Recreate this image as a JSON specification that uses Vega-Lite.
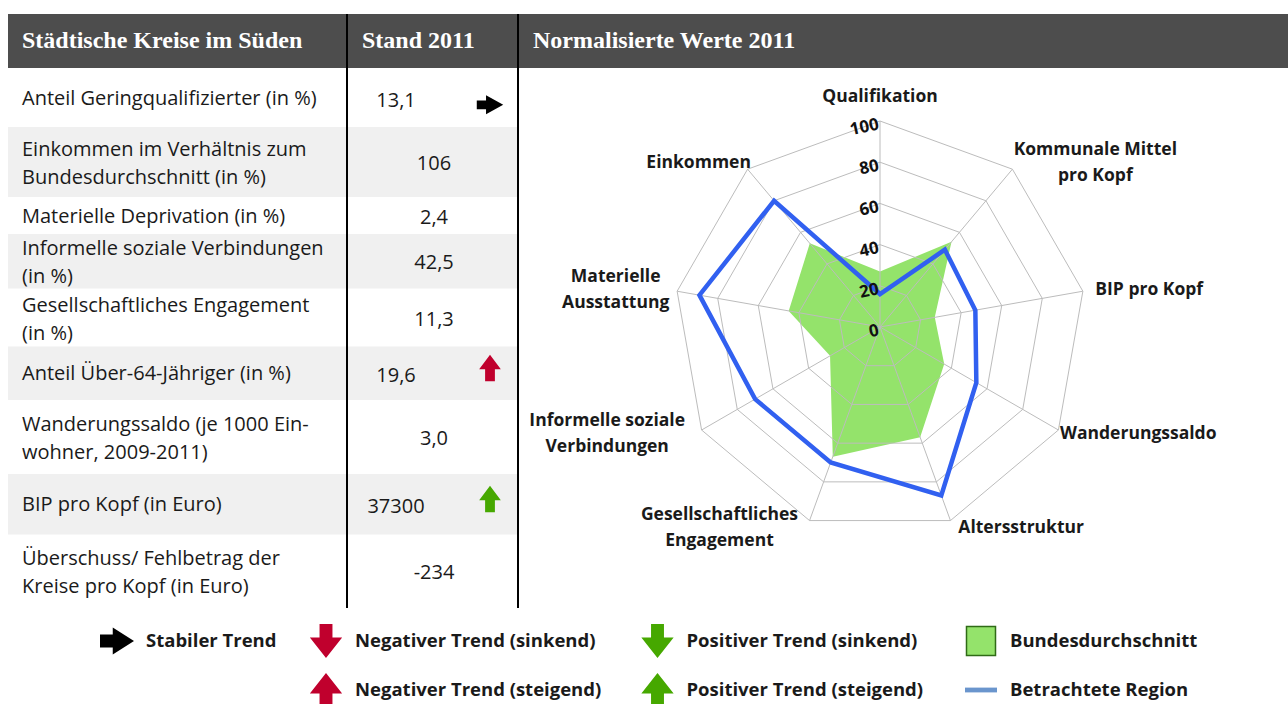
{
  "$schema": "https://vega.github.io/schema/vega-lite/v6.json",
  "width": 1288,
  "height": 704,
  "autosize": {"type": "fit", "contains": "padding"},
  "padding": 0,
  "background": "#ffffff",
  "config": {"view": {"stroke": null}},
  "datasets": {
    "kopfzeile": [
      {"titel": "Städtische Kreise im Süden", "spalte": 1},
      {"titel": "Stand 2011", "spalte": 3},
      {"titel": "Normalisierte Werte 2011", "spalte": 8}
    ],
    "tabelle": [
      {"zeile": 1, "indikator": "Anteil Geringqualifizierter (in %)", "wert": "13,1", "trend": "stabil"},
      {"zeile": 2, "indikator": "Einkommen im Verhältnis zum\nBundesdurchschnitt (in %)", "wert": "106"},
      {"zeile": 3, "indikator": "Materielle Deprivation (in %)", "wert": "2,4"},
      {"zeile": 4, "indikator": "Informelle soziale Verbindungen\n(in %)", "wert": "42,5"},
      {"zeile": 5, "indikator": "Gesellschaftliches Engagement\n(in %)", "wert": "11,3"},
      {"zeile": 6, "indikator": "Anteil Über-64-Jähriger (in %)", "wert": "19,6", "trend": "neg_steigend"},
      {"zeile": 7, "indikator": "Wanderungssaldo (je 1000 Ein-\nwohner, 2009-2011)", "wert": "3,0"},
      {"zeile": 8, "indikator": "BIP pro Kopf (in Euro)", "wert": "37300", "trend": "pos_steigend"},
      {"zeile": 9, "indikator": "Überschuss/ Fehlbetrag der\nKreise pro Kopf (in Euro)", "wert": "-234"}
    ],
    "achsen": [
      {"i": 0, "achse": "Qualifikation", "region": 16, "bund": 27},
      {"i": 1, "achse": "Kommunale Mittel\npro Kopf", "region": 49, "bund": 54},
      {"i": 2, "achse": "BIP pro Kopf", "region": 47, "bund": 27},
      {"i": 3, "achse": "Wanderungssaldo", "region": 54, "bund": 36},
      {"i": 4, "achse": "Altersstruktur", "region": 87, "bund": 57},
      {"i": 5, "achse": "Gesellschaftliches\nEngagement", "region": 70, "bund": 67},
      {"i": 6, "achse": "Informelle soziale\nVerbindungen", "region": 70, "bund": 28},
      {"i": 7, "achse": "Materielle\nAusstattung", "region": 89, "bund": 45},
      {"i": 8, "achse": "Einkommen", "region": 80, "bund": 53}
    ],
    "ringe": [
      {"stufe": 20, "achsenIndex": [0, 1, 2, 3, 4, 5, 6, 7, 8]},
      {"stufe": 40, "achsenIndex": [0, 1, 2, 3, 4, 5, 6, 7, 8]},
      {"stufe": 60, "achsenIndex": [0, 1, 2, 3, 4, 5, 6, 7, 8]},
      {"stufe": 80, "achsenIndex": [0, 1, 2, 3, 4, 5, 6, 7, 8]},
      {"stufe": 100, "achsenIndex": [0, 1, 2, 3, 4, 5, 6, 7, 8]}
    ],
    "stufen": [{"stufe": 0}, {"stufe": 20}, {"stufe": 40}, {"stufe": 60}, {"stufe": 80}, {"stufe": 100}],
    "legende": [
      {"symbol": "stabil", "eintrag": "Stabiler Trend"},
      {"symbol": "neg_sinkend", "eintrag": "Negativer Trend (sinkend)"},
      {"symbol": "neg_steigend", "eintrag": "Negativer Trend (steigend)"},
      {"symbol": "pos_sinkend", "eintrag": "Positiver Trend (sinkend)"},
      {"symbol": "pos_steigend", "eintrag": "Positiver Trend (steigend)"},
      {"symbol": "bund", "eintrag": "Bundesdurchschnitt"},
      {"symbol": "region", "eintrag": "Betrachtete Region"}
    ]
  },
  "resolve": {"scale": {"x": "independent", "y": "independent"}},
  "layer": [
    {
      "layer": [
        {
          "data": {"values": [{"feld": "kopf"}]},
          "mark": {"type": "rect", "color": "#4d4d4d"},
          "encoding": {
            "x": {"datum": 0, "type": "quantitative", "axis": null, "scale": {"domain": [0,1,2,3,4,5,6,7,8,9], "range": [8,22,347,362,396,434,490,518,533,1288], "nice": false, "zero": false}},
            "x2": {"datum": 9},
            "y": {"datum": 0, "type": "quantitative", "axis": null, "scale": {"domain": [0,1,2,3,4,5,6,7,8,9,10], "range": [14,68,127,197,234,288.5,346.5,400,474,534.5,608], "nice": false, "zero": false}},
            "y2": {"datum": 1}
          }
        },
        {
          "data": {"name": "tabelle"},
          "transform": [{"filter": "datum.zeile % 2 == 0"}, {"calculate": "datum.zeile + 1", "as": "ende"}],
          "mark": {"type": "rect", "color": "#f0f0f0"},
          "encoding": {
            "x": {"datum": 0, "type": "quantitative", "axis": null, "scale": {"domain": [0,1,2,3,4,5,6,7,8,9], "range": [8,22,347,362,396,434,490,518,533,1288], "nice": false, "zero": false}},
            "x2": {"datum": 7},
            "y": {"field": "zeile", "type": "quantitative", "axis": null, "scale": {"domain": [0,1,2,3,4,5,6,7,8,9,10], "range": [14,68,127,197,234,288.5,346.5,400,474,534.5,608], "nice": false, "zero": false}},
            "y2": {"field": "ende"}
          }
        },
        {
          "data": {"values": [{"trenner": 2}, {"trenner": 7}]},
          "mark": {"type": "rule", "color": "#000000", "strokeWidth": 2},
          "encoding": {
            "x": {"field": "trenner", "type": "quantitative", "axis": null, "scale": {"domain": [0,1,2,3,4,5,6,7,8,9], "range": [8,22,347,362,396,434,490,518,533,1288], "nice": false, "zero": false}},
            "y": {"datum": 0, "type": "quantitative", "axis": null, "scale": {"domain": [0,1,2,3,4,5,6,7,8,9,10], "range": [14,68,127,197,234,288.5,346.5,400,474,534.5,608], "nice": false, "zero": false}},
            "y2": {"datum": 10}
          }
        },
        {
          "data": {"name": "kopfzeile"},
          "mark": {"type": "text", "align": "left", "baseline": "middle", "font": "Liberation Serif", "fontWeight": "bold", "fontSize": 24, "color": "#ffffff"},
          "encoding": {
            "x": {"field": "spalte", "type": "quantitative", "axis": null, "scale": {"domain": [0,1,2,3,4,5,6,7,8,9], "range": [8,22,347,362,396,434,490,518,533,1288], "nice": false, "zero": false}},
            "y": {"datum": 0.5, "type": "quantitative", "axis": null, "scale": {"domain": [0,1,2,3,4,5,6,7,8,9,10], "range": [14,68,127,197,234,288.5,346.5,400,474,534.5,608], "nice": false, "zero": false}},
            "text": {"field": "titel"}
          }
        },
        {
          "data": {"name": "tabelle"},
          "transform": [{"filter": "indexof(datum.indikator, '\\n') < 0"}, {"calculate": "datum.zeile + 0.5", "as": "mitte"}],
          "mark": {"type": "text", "align": "left", "baseline": "middle", "dy": 1, "font": "Open Sans", "fontSize": 20, "color": "#1a1a1a"},
          "encoding": {
            "x": {"datum": 1, "type": "quantitative", "axis": null, "scale": {"domain": [0,1,2,3,4,5,6,7,8,9], "range": [8,22,347,362,396,434,490,518,533,1288], "nice": false, "zero": false}},
            "y": {"field": "mitte", "type": "quantitative", "axis": null, "scale": {"domain": [0,1,2,3,4,5,6,7,8,9,10], "range": [14,68,127,197,234,288.5,346.5,400,474,534.5,608], "nice": false, "zero": false}},
            "text": {"field": "indikator"}
          }
        },
        {
          "data": {"name": "tabelle"},
          "transform": [{"filter": "indexof(datum.indikator, '\\n') >= 0"}, {"calculate": "datum.zeile + 0.5", "as": "mitte"}],
          "mark": {"type": "text", "align": "left", "baseline": "middle", "dy": -12, "font": "Open Sans", "fontSize": 20, "lineHeight": 28, "lineBreak": "\n", "color": "#1a1a1a"},
          "encoding": {
            "x": {"datum": 1, "type": "quantitative", "axis": null, "scale": {"domain": [0,1,2,3,4,5,6,7,8,9], "range": [8,22,347,362,396,434,490,518,533,1288], "nice": false, "zero": false}},
            "y": {"field": "mitte", "type": "quantitative", "axis": null, "scale": {"domain": [0,1,2,3,4,5,6,7,8,9,10], "range": [14,68,127,197,234,288.5,346.5,400,474,534.5,608], "nice": false, "zero": false}},
            "text": {"field": "indikator"}
          }
        },
        {
          "data": {"name": "tabelle"},
          "transform": [{"filter": "!datum.trend"}, {"calculate": "datum.zeile + 0.5", "as": "mitte"}],
          "mark": {"type": "text", "align": "center", "baseline": "middle", "dy": 2, "font": "Open Sans", "fontSize": 20, "color": "#1a1a1a"},
          "encoding": {
            "x": {"datum": 5, "type": "quantitative", "axis": null, "scale": {"domain": [0,1,2,3,4,5,6,7,8,9], "range": [8,22,347,362,396,434,490,518,533,1288], "nice": false, "zero": false}},
            "y": {"field": "mitte", "type": "quantitative", "axis": null, "scale": {"domain": [0,1,2,3,4,5,6,7,8,9,10], "range": [14,68,127,197,234,288.5,346.5,400,474,534.5,608], "nice": false, "zero": false}},
            "text": {"field": "wert"}
          }
        },
        {
          "data": {"name": "tabelle"},
          "transform": [{"filter": "datum.trend"}, {"calculate": "datum.zeile + 0.5", "as": "mitte"}],
          "mark": {"type": "text", "align": "center", "baseline": "middle", "dy": 3, "font": "Open Sans", "fontSize": 20, "color": "#1a1a1a"},
          "encoding": {
            "x": {"datum": 4, "type": "quantitative", "axis": null, "scale": {"domain": [0,1,2,3,4,5,6,7,8,9], "range": [8,22,347,362,396,434,490,518,533,1288], "nice": false, "zero": false}},
            "y": {"field": "mitte", "type": "quantitative", "axis": null, "scale": {"domain": [0,1,2,3,4,5,6,7,8,9,10], "range": [14,68,127,197,234,288.5,346.5,400,474,534.5,608], "nice": false, "zero": false}},
            "text": {"field": "wert"}
          }
        },
        {
          "data": {"name": "tabelle"},
          "transform": [{"filter": "datum.trend"}, {"calculate": "datum.zeile + 0.5", "as": "mitte"}],
          "mark": {"type": "point", "filled": true, "opacity": 1, "size": 700, "strokeWidth": 0},
          "encoding": {
            "x": {"datum": 6, "type": "quantitative", "axis": null, "scale": {"domain": [0,1,2,3,4,5,6,7,8,9], "range": [8,22,347,362,396,434,490,518,533,1288], "nice": false, "zero": false}},
            "y": {"field": "mitte", "type": "quantitative", "axis": null, "scale": {"domain": [0,1,2,3,4,5,6,7,8,9,10], "range": [14,68,127,197,234,288.5,346.5,400,474,534.5,608], "nice": false, "zero": false}},
            "shape": {"field": "trend", "type": "nominal", "legend": null, "scale": {"domain": ["stabil", "neg_sinkend", "neg_steigend", "pos_sinkend", "pos_steigend"], "range": ["M-1,0.22L-0.3,0.22L-0.3,-0.17L1,0.55L-0.3,1.27L-0.3,0.88L-1,0.88Z", "M-0.37,-1L-0.37,-0.1L-0.82,-0.1L0,1L0.82,-0.1L0.37,-0.1L0.37,-1Z", "M-0.37,0.6L-0.37,-0.3L-0.82,-0.3L0,-1.4L0.82,-0.3L0.37,-0.3L0.37,0.6Z", "M-0.37,-1L-0.37,-0.1L-0.82,-0.1L0,1L0.82,-0.1L0.37,-0.1L0.37,-1Z", "M-0.37,0.6L-0.37,-0.3L-0.82,-0.3L0,-1.4L0.82,-0.3L0.37,-0.3L0.37,0.6Z"]}},
            "color": {"field": "trend", "type": "nominal", "legend": null, "scale": {"domain": ["stabil", "neg_sinkend", "neg_steigend", "pos_sinkend", "pos_steigend"], "range": ["#000000", "#c0002d", "#c0002d", "#46a800", "#46a800"]}}
          }
        }
      ]
    },
    {
      "layer": [
        {
          "data": {"name": "achsen"},
          "transform": [
            {"calculate": "datum.i * 2 * PI / 9", "as": "theta"},
            {"calculate": "datum.bund * sin(datum.theta)", "as": "bx"},
            {"calculate": "datum.bund * cos(datum.theta)", "as": "by"}
          ],
          "mark": {"type": "line", "interpolate": "linear-closed", "fill": "#94e36b", "stroke": "transparent", "strokeWidth": 0},
          "encoding": {
            "x": {"field": "bx", "type": "quantitative", "axis": null, "scale": {"domain": [-100, 100], "range": [674, 1086], "nice": false, "zero": false}},
            "y": {"field": "by", "type": "quantitative", "axis": null, "scale": {"domain": [-100, 100], "range": [533, 121], "nice": false, "zero": false}},
            "order": {"field": "i", "type": "quantitative"}
          }
        },
        {
          "data": {"name": "ringe"},
          "transform": [
            {"flatten": ["achsenIndex"]},
            {"calculate": "datum.achsenIndex * 2 * PI / 9", "as": "theta"},
            {"calculate": "datum.stufe * sin(datum.theta)", "as": "gx"},
            {"calculate": "datum.stufe * cos(datum.theta)", "as": "gy"}
          ],
          "mark": {"type": "line", "interpolate": "linear-closed", "color": "#bcbcbc", "strokeWidth": 1},
          "encoding": {
            "x": {"field": "gx", "type": "quantitative", "axis": null, "scale": {"domain": [-100, 100], "range": [674, 1086], "nice": false, "zero": false}},
            "y": {"field": "gy", "type": "quantitative", "axis": null, "scale": {"domain": [-100, 100], "range": [533, 121], "nice": false, "zero": false}},
            "detail": {"field": "stufe", "type": "nominal"},
            "order": {"field": "achsenIndex", "type": "quantitative"}
          }
        },
        {
          "data": {"name": "achsen"},
          "transform": [
            {"calculate": "datum.i * 2 * PI / 9", "as": "theta"},
            {"calculate": "100 * sin(datum.theta)", "as": "sx"},
            {"calculate": "100 * cos(datum.theta)", "as": "sy"},
            {"calculate": "0", "as": "null_x"}
          ],
          "mark": {"type": "rule", "color": "#bcbcbc", "strokeWidth": 1},
          "encoding": {
            "x": {"field": "null_x", "type": "quantitative", "axis": null, "scale": {"domain": [-100, 100], "range": [674, 1086], "nice": false, "zero": false}},
            "y": {"field": "null_x", "type": "quantitative", "axis": null, "scale": {"domain": [-100, 100], "range": [533, 121], "nice": false, "zero": false}},
            "x2": {"field": "sx"},
            "y2": {"field": "sy"}
          }
        },
        {
          "data": {"name": "achsen"},
          "transform": [
            {"calculate": "datum.i * 2 * PI / 9", "as": "theta"},
            {"calculate": "datum.region * sin(datum.theta)", "as": "rx"},
            {"calculate": "datum.region * cos(datum.theta)", "as": "ry"}
          ],
          "mark": {"type": "line", "interpolate": "linear-closed", "color": "#3160f0", "strokeWidth": 4.5, "strokeJoin": "miter"},
          "encoding": {
            "x": {"field": "rx", "type": "quantitative", "axis": null, "scale": {"domain": [-100, 100], "range": [674, 1086], "nice": false, "zero": false}},
            "y": {"field": "ry", "type": "quantitative", "axis": null, "scale": {"domain": [-100, 100], "range": [533, 121], "nice": false, "zero": false}},
            "order": {"field": "i", "type": "quantitative"}
          }
        },
        {
          "data": {"name": "stufen"},
          "mark": {"type": "text", "align": "right", "baseline": "middle", "dx": -2, "dy": 3, "angle": 348, "font": "Open Sans", "fontWeight": "bold", "fontSize": 17, "color": "#111111"},
          "encoding": {
            "x": {"datum": 0, "type": "quantitative", "axis": null, "scale": {"domain": [-100, 100], "range": [674, 1086], "nice": false, "zero": false}},
            "y": {"field": "stufe", "type": "quantitative", "axis": null, "scale": {"domain": [-100, 100], "range": [533, 121], "nice": false, "zero": false}},
            "text": {"field": "stufe", "type": "quantitative"}
          }
        },
        {
          "data": {"name": "achsen"},
          "transform": [
            {"calculate": "datum.i * 2 * PI / 9", "as": "theta"},
            {"calculate": "sin(datum.theta)", "as": "s"},
            {"calculate": "cos(datum.theta)", "as": "c"},
            {"calculate": "split(datum.achse, '\\n')", "as": "zeilen"},
            {"calculate": "max(length(datum.zeilen[0]), length(datum.zeilen) > 1 ? length(datum.zeilen[1]) : 0)", "as": "maxlen"},
            {"calculate": "datum.s > 0.1 ? 1 : (datum.s < -0.1 ? -1 : 0)", "as": "seite"},
            {"calculate": "(datum.seite == 0 ? 111.6 : 104) * datum.s + datum.seite * datum.maxlen * 4.85 / 2.06", "as": "lx"},
            {"calculate": "(datum.seite == 0 ? 111.6 : 104) * datum.c + (length(datum.zeilen) - 1) * 13 / 2.06", "as": "ly"}
          ],
          "mark": {"type": "text", "align": "center", "baseline": "middle", "lineBreak": "\n", "lineHeight": 26, "font": "Open Sans", "fontWeight": "bold", "fontSize": 17.5, "color": "#1a1a1a"},
          "encoding": {
            "x": {"field": "lx", "type": "quantitative", "axis": null, "scale": {"domain": [-100, 100], "range": [674, 1086], "nice": false, "zero": false}},
            "y": {"field": "ly", "type": "quantitative", "axis": null, "scale": {"domain": [-100, 100], "range": [533, 121], "nice": false, "zero": false}},
            "text": {"field": "achse"}
          }
        }
      ]
    },
    {
      "data": {"name": "legende"},
      "transform": [
        {"calculate": "datum.symbol == 'stabil' ? 0 : (indexof(datum.symbol, 'neg') == 0 ? 1 : (indexof(datum.symbol, 'pos') == 0 ? 2 : 3))", "as": "spalte"},
        {"calculate": "(indexof(datum.symbol, 'steigend') > 0 || datum.symbol == 'region') ? 1 : 0", "as": "reihe"}
      ],
      "layer": [
        {
          "transform": [{"filter": "datum.symbol == 'stabil'"}],
          "mark": {"type": "point", "shape": "M-1,-0.38L-0.25,-0.38L-0.25,-0.8L1,0L-0.25,0.8L-0.25,0.38L-1,0.38Z", "filled": true, "opacity": 1, "color": "#000000", "size": 1156, "strokeWidth": 0},
          "encoding": {
            "x": {"field": "spalte", "type": "quantitative", "axis": null, "scale": {"domain": [0, 1, 2, 3], "range": [117, 326, 657.5, 981], "nice": false, "zero": false}},
            "y": {"field": "reihe", "type": "quantitative", "axis": null, "scale": {"domain": [0, 1], "range": [641, 690], "nice": false, "zero": false}}
          }
        },
        {
          "transform": [{"filter": "datum.symbol == 'neg_sinkend' || datum.symbol == 'pos_sinkend'"}],
          "mark": {"type": "point", "shape": "M-0.38,-1L0.38,-1L0.38,-0.2L0.95,-0.2L0,1L-0.95,-0.2L-0.38,-0.2Z", "filled": true, "opacity": 1, "size": 1156, "strokeWidth": 0},
          "encoding": {
            "x": {"field": "spalte", "type": "quantitative", "axis": null, "scale": {"domain": [0, 1, 2, 3], "range": [117, 326, 657.5, 981], "nice": false, "zero": false}},
            "y": {"field": "reihe", "type": "quantitative", "axis": null, "scale": {"domain": [0, 1], "range": [641, 690], "nice": false, "zero": false}},
            "color": {"field": "symbol", "type": "nominal", "legend": null, "scale": {"domain": ["stabil", "neg_sinkend", "neg_steigend", "pos_sinkend", "pos_steigend"], "range": ["#000000", "#c0002d", "#c0002d", "#46a800", "#46a800"]}}
          }
        },
        {
          "transform": [{"filter": "datum.symbol == 'neg_steigend' || datum.symbol == 'pos_steigend'"}],
          "mark": {"type": "point", "shape": "M-0.38,1L0.38,1L0.38,0.2L0.95,0.2L0,-1L-0.95,0.2L-0.38,0.2Z", "filled": true, "opacity": 1, "size": 1156, "strokeWidth": 0},
          "encoding": {
            "x": {"field": "spalte", "type": "quantitative", "axis": null, "scale": {"domain": [0, 1, 2, 3], "range": [117, 326, 657.5, 981], "nice": false, "zero": false}},
            "y": {"field": "reihe", "type": "quantitative", "axis": null, "scale": {"domain": [0, 1], "range": [641, 690], "nice": false, "zero": false}},
            "color": {"field": "symbol", "type": "nominal", "legend": null, "scale": {"domain": ["stabil", "neg_sinkend", "neg_steigend", "pos_sinkend", "pos_steigend"], "range": ["#000000", "#c0002d", "#c0002d", "#46a800", "#46a800"]}}
          }
        },
        {
          "transform": [{"filter": "datum.symbol == 'bund'"}],
          "mark": {"type": "point", "shape": "square", "filled": true, "opacity": 1, "fill": "#94e36b", "stroke": "#2f6b16", "strokeWidth": 1.5, "size": 841},
          "encoding": {
            "x": {"field": "spalte", "type": "quantitative", "axis": null, "scale": {"domain": [0, 1, 2, 3], "range": [117, 326, 657.5, 981], "nice": false, "zero": false}},
            "y": {"field": "reihe", "type": "quantitative", "axis": null, "scale": {"domain": [0, 1], "range": [641, 690], "nice": false, "zero": false}}
          }
        },
        {
          "transform": [{"filter": "datum.symbol == 'region'"}],
          "mark": {"type": "point", "shape": "M-1,-0.15L1,-0.15L1,0.15L-1,0.15Z", "filled": true, "opacity": 1, "color": "#6a95cd", "size": 1024, "strokeWidth": 0},
          "encoding": {
            "x": {"field": "spalte", "type": "quantitative", "axis": null, "scale": {"domain": [0, 1, 2, 3], "range": [117, 326, 657.5, 981], "nice": false, "zero": false}},
            "y": {"field": "reihe", "type": "quantitative", "axis": null, "scale": {"domain": [0, 1], "range": [641, 690], "nice": false, "zero": false}}
          }
        },
        {
          "mark": {"type": "text", "align": "left", "baseline": "middle", "dx": 29, "font": "Open Sans", "fontWeight": "bold", "fontSize": 18.5, "color": "#1a1a1a"},
          "encoding": {
            "x": {"field": "spalte", "type": "quantitative", "axis": null, "scale": {"domain": [0, 1, 2, 3], "range": [117, 326, 657.5, 981], "nice": false, "zero": false}},
            "y": {"field": "reihe", "type": "quantitative", "axis": null, "scale": {"domain": [0, 1], "range": [641, 690], "nice": false, "zero": false}},
            "text": {"field": "eintrag"}
          }
        }
      ]
    }
  ]
}
